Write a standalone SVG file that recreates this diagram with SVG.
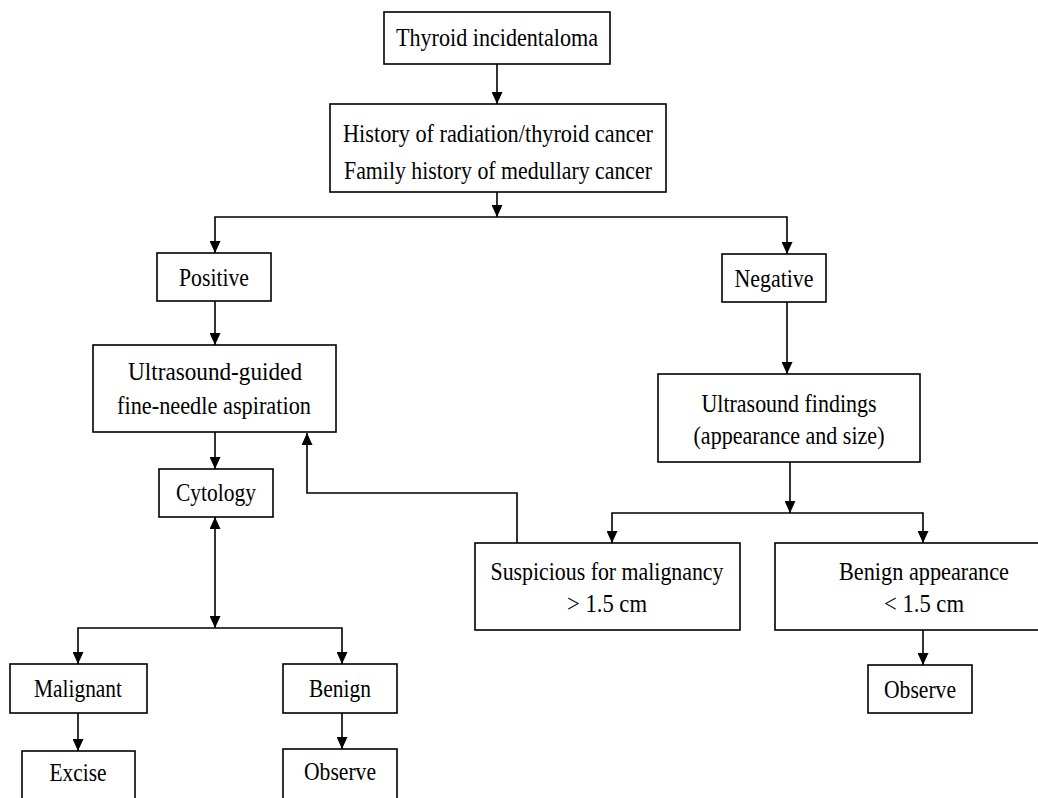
<svg xmlns="http://www.w3.org/2000/svg" width="1038" height="798" viewBox="0 0 1038 798">
<defs>
<marker id="ah" markerUnits="userSpaceOnUse" markerWidth="12" markerHeight="11" refX="12" refY="5.5" orient="auto-start-reverse">
<path d="M0,0 L12,5.5 L0,11 z" fill="#000"/>
</marker>
<style>
.box{fill:#fff;stroke:#000;stroke-width:1.6}
.t{font-family:"Liberation Serif","Times New Roman",serif;font-size:25px;fill:#000;text-anchor:middle}
.c{fill:none;stroke:#000;stroke-width:1.6}
.e{marker-end:url(#ah)}
.b{marker-start:url(#ah);marker-end:url(#ah)}
</style>
</defs>
<rect width="1038" height="798" fill="#fff"/>
<g id="connectors">
<path class="c e" d="M497,64 V104"/>
<path class="c e" d="M497,192 V217"/>
<path class="c b" d="M215,253 V217 H787 V254"/>
<path class="c e" d="M215,301 V345"/>
<path class="c e" d="M215,432 V469"/>
<path class="c b" d="M215,517 V628"/>
<path class="c b" d="M78,664 V628 H342 V664"/>
<path class="c e" d="M78,713 V751"/>
<path class="c e" d="M342,713 V749"/>
<path class="c e" d="M517,543 V493 H307 V433"/>
<path class="c e" d="M787,302 V374"/>
<path class="c e" d="M790,462 V513"/>
<path class="c b" d="M612,543 V513 H923 V543"/>
<path class="c e" d="M923,630 V665"/>
</g>
<g id="n-thyroid"><rect class="box" x="384" y="12" width="226" height="52"/><text class="t" x="497" y="46" textLength="202" lengthAdjust="spacingAndGlyphs">Thyroid incidentaloma</text></g>
<g id="n-history"><rect class="box" x="330" y="104" width="336" height="88"/><text class="t" x="498" y="142" textLength="310" lengthAdjust="spacingAndGlyphs">History of radiation/thyroid cancer</text><text class="t" x="498" y="179" textLength="308" lengthAdjust="spacingAndGlyphs">Family history of medullary cancer</text></g>
<g id="n-positive"><rect class="box" x="157" y="253" width="114" height="48"/><text class="t" x="214" y="286" textLength="70" lengthAdjust="spacingAndGlyphs">Positive</text></g>
<g id="n-negative"><rect class="box" x="722" y="254" width="104" height="48"/><text class="t" x="774" y="287" textLength="79" lengthAdjust="spacingAndGlyphs">Negative</text></g>
<g id="n-usfna"><rect class="box" x="93" y="345" width="243" height="87"/><text class="t" x="215" y="380" textLength="174" lengthAdjust="spacingAndGlyphs">Ultrasound-guided</text><text class="t" x="214" y="414" textLength="194" lengthAdjust="spacingAndGlyphs">fine-needle aspiration</text></g>
<g id="n-usfind"><rect class="box" x="658" y="374" width="262" height="88"/><text class="t" x="789" y="412" textLength="175" lengthAdjust="spacingAndGlyphs">Ultrasound findings</text><text class="t" x="789" y="444" textLength="191" lengthAdjust="spacingAndGlyphs">(appearance and size)</text></g>
<g id="n-cytology"><rect class="box" x="159" y="469" width="114" height="48"/><text class="t" x="216" y="501" textLength="80" lengthAdjust="spacingAndGlyphs">Cytology</text></g>
<g id="n-suspicious"><rect class="box" x="475" y="543" width="265" height="87"/><text class="t" x="607" y="580" textLength="233" lengthAdjust="spacingAndGlyphs">Suspicious for malignancy</text><text class="t" x="607" y="612" textLength="80" lengthAdjust="spacingAndGlyphs">&gt; 1.5 cm</text></g>
<g id="n-benignapp"><rect class="box" x="775" y="543" width="300" height="87"/><text class="t" x="924" y="580" textLength="170" lengthAdjust="spacingAndGlyphs">Benign appearance</text><text class="t" x="924" y="612" textLength="80" lengthAdjust="spacingAndGlyphs">&lt; 1.5 cm</text></g>
<g id="n-malignant"><rect class="box" x="10" y="664" width="137" height="49"/><text class="t" x="78" y="697" textLength="88" lengthAdjust="spacingAndGlyphs">Malignant</text></g>
<g id="n-benign"><rect class="box" x="283" y="664" width="114" height="49"/><text class="t" x="340" y="697" textLength="62" lengthAdjust="spacingAndGlyphs">Benign</text></g>
<g id="n-observe-r"><rect class="box" x="868" y="665" width="104" height="48"/><text class="t" x="920" y="698" textLength="72" lengthAdjust="spacingAndGlyphs">Observe</text></g>
<g id="n-excise"><rect class="box" x="22" y="751" width="113" height="60"/><text class="t" x="78" y="781" textLength="57" lengthAdjust="spacingAndGlyphs">Excise</text></g>
<g id="n-observe-l"><rect class="box" x="283" y="749" width="114" height="62"/><text class="t" x="340" y="780" textLength="72" lengthAdjust="spacingAndGlyphs">Observe</text></g>
</svg>
